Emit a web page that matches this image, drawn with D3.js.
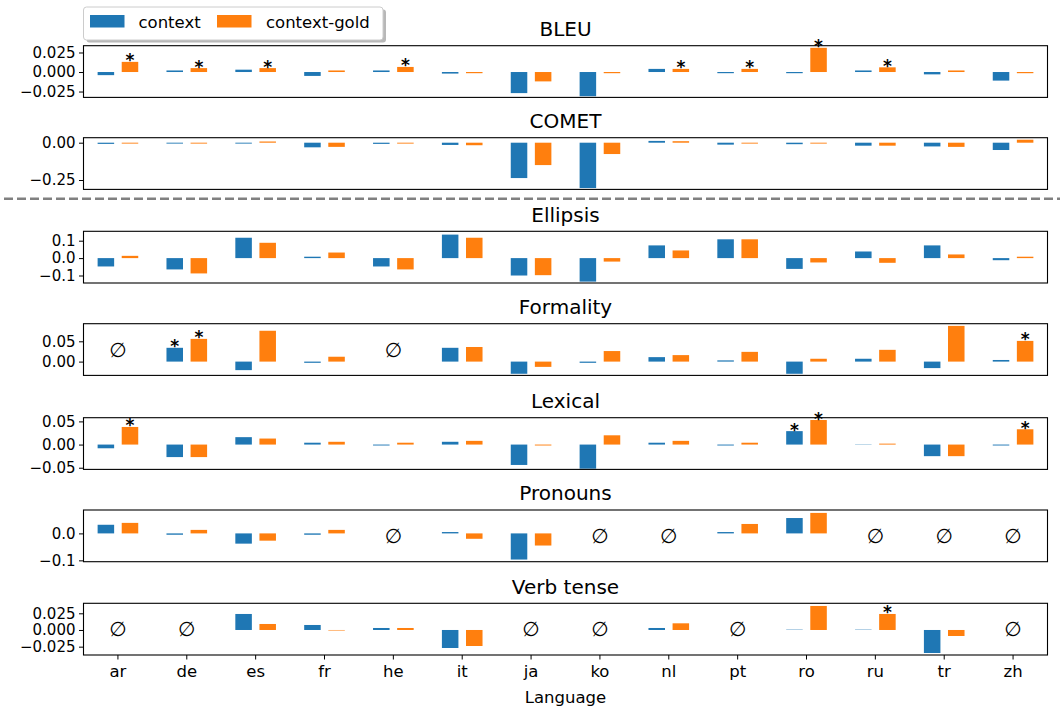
<!DOCTYPE html>
<html>
<head>
<meta charset="utf-8">
<script src="https://cdn.jsdelivr.net/npm/d3@7"></script>
<style>
  html, body { margin: 0; padding: 0; background: #fff; }
  svg { display: block; font-family: "DejaVu Sans", sans-serif; }
</style>
</head>
<body>
<svg id="chart" width="1060" height="707"></svg>
<script>
// Languages on the shared x axis
const languages = ["ar", "de", "es", "fr", "he", "it", "ja", "ko", "nl", "pt", "ro", "ru", "tr", "zh"];
const seriesNames = ["context", "context-gold"];

// Score differences per metric (null = no test data for that language)
const bleuContext = [-0.004, 0.002, 0.003, -0.005, 0.002, -0.002, -0.027, -0.031, 0.004, -0.0015, -0.0015, 0.002, -0.003, -0.011];
const bleuGold    = [0.013, 0.005, 0.005, 0.002, 0.0065, -0.0015, -0.012, -0.0015, 0.004, 0.004, 0.031, 0.006, 0.002, -0.0015];

const cometContext = [-0.008, -0.006, -0.006, -0.031, -0.008, -0.015, -0.237, -0.304, 0.012, -0.013, -0.01, -0.02, -0.025, -0.049];
const cometGold    = [-0.006, -0.006, 0.008, -0.028, -0.006, -0.017, -0.15, -0.076, 0.01, -0.006, -0.006, -0.02, -0.028, 0.02];

const ellipsisContext = [-0.048, -0.065, 0.117, 0.008, -0.048, 0.135, -0.1, -0.135, 0.073, 0.108, -0.062, 0.038, 0.073, -0.012];
const ellipsisGold    = [0.013, -0.088, 0.088, 0.032, -0.065, 0.117, -0.098, -0.02, 0.044, 0.108, -0.025, -0.027, 0.021, 0.008];

const formalityContext = [null, 0.034, -0.021, -0.003, null, 0.034, -0.03, -0.003, 0.011, 0.003, -0.03, 0.007, -0.016, 0.004];
const formalityGold    = [null, 0.056, 0.076, 0.012, null, 0.036, -0.013, 0.026, 0.016, 0.024, 0.007, 0.029, 0.088, 0.051];

const lexicalContext = [-0.008, -0.027, 0.016, 0.004, -0.002, 0.006, -0.044, -0.052, 0.004, -0.002, 0.029, 0.0006, -0.025, -0.002];
const lexicalGold    = [0.038, -0.027, 0.013, 0.006, 0.004, 0.008, -0.002, 0.02, 0.008, 0.004, 0.053, 0.002, -0.025, 0.033];

const pronounsContext = [0.032, -0.005, -0.038, -0.005, null, 0.005, -0.097, null, null, 0.005, 0.057, null, null, null];
const pronounsGold    = [0.039, 0.013, -0.027, 0.013, null, -0.02, -0.045, null, null, 0.035, 0.076, null, null, null];

const verbContext = [null, null, 0.024, 0.0075, 0.003, -0.027, null, null, 0.003, null, 0.0005, 0.0005, -0.0345, null];
const verbGold    = [null, null, 0.009, -0.0008, 0.003, -0.024, null, null, 0.01, null, 0.036, 0.024, -0.009, null];

// Languages whose difference is statistically significant (marked with *)
const bleuSigContext = [];
const bleuSigGold = ["ar", "de", "es", "he", "nl", "pt", "ro", "ru"];
const formalitySigContext = ["de"];
const formalitySigGold = ["de", "zh"];
const lexicalSigContext = ["ro"];
const lexicalSigGold = ["ar", "ro", "zh"];
const verbSigGold = ["ru"];

// Tick values per panel
const bleuTicks = [-0.025, 0, 0.025];
const cometTicks = [-0.25, 0];
const ellipsisTicks = [-0.1, 0, 0.1];
const formalityTicks = [0, 0.05];
const lexicalTicks = [-0.05, 0, 0.05];
const pronounsTicks = [-0.1, 0];
const verbTicks = [-0.025, 0, 0.025];

const panels = [
  { title: "BLEU", ctx: bleuContext, gold: bleuGold, sigCtx: bleuSigContext, sigGold: bleuSigGold,
    ticks: bleuTicks, fmt: ".3f", ylim: [-0.0325, 0.0337], top: 45.7 },
  { title: "COMET", ctx: cometContext, gold: cometGold, sigCtx: [], sigGold: [],
    ticks: cometTicks, fmt: ".2f", ylim: [-0.313, 0.0335], top: 137.7 },
  { title: "Ellipsis", ctx: ellipsisContext, gold: ellipsisGold, sigCtx: [], sigGold: [],
    ticks: ellipsisTicks, fmt: ".1f", ylim: [-0.143, 0.154], top: 231.3 },
  { title: "Formality", ctx: formalityContext, gold: formalityGold, sigCtx: formalitySigContext, sigGold: formalitySigGold,
    ticks: formalityTicks, fmt: ".2f", ylim: [-0.034, 0.0934], top: 323.7 },
  { title: "Lexical", ctx: lexicalContext, gold: lexicalGold, sigCtx: lexicalSigContext, sigGold: lexicalSigGold,
    ticks: lexicalTicks, fmt: ".2f", ylim: [-0.0536, 0.058], top: 417.7 },
  { title: "Pronouns", ctx: pronounsContext, gold: pronounsGold, sigCtx: [], sigGold: [],
    ticks: pronounsTicks, fmt: ".1f", ylim: [-0.105, 0.0868], top: 510 },
  { title: "Verb tense", ctx: verbContext, gold: verbGold, sigCtx: [], sigGold: verbSigGold,
    ticks: verbTicks, fmt: ".3f", ylim: [-0.0375, 0.040], top: 603.3 }
];

const colors = { ctx: "#1f77b4", gold: "#ff7f0e" };
const plotLeft = 83.5, plotRight = 1047.5, panelH = 51.7;

const svg = d3.select("#chart");

const x = d3.scaleBand().domain(languages).range([plotLeft, plotRight]).padding(0);
const bw = x.bandwidth();
const barW = bw * 0.24;
const barOff = bw * 0.175;
const cx = l => x(l) + bw / 2;

const minus = s => s.replace("-", "\u2212");

panels.forEach((p, pi) => {
  const y = d3.scaleLinear().domain(p.ylim).range([p.top + panelH, p.top]);
  const g = svg.append("g");

  // title
  g.append("text")
    .attr("x", (plotLeft + plotRight) / 2)
    .attr("y", p.top - 9.7)
    .attr("text-anchor", "middle")
    .attr("font-size", 20)
    .attr("fill", "#000")
    .text(p.title);

  // bars for both series
  [["ctx", -barOff], ["gold", barOff]].forEach(([key, off]) => {
    const vals = p[key];
    const sig = key === "ctx" ? p.sigCtx : p.sigGold;
    languages.forEach((lang, i) => {
      const v = vals[i];
      if (v === null) return;
      const y0 = y(0), y1 = y(v);
      g.append("rect")
        .attr("x", cx(lang) + off - barW / 2)
        .attr("y", Math.min(y0, y1))
        .attr("width", barW)
        .attr("height", Math.abs(y1 - y0))
        .attr("fill", colors[key]);
      if (sig.includes(lang)) {
        g.append("text")
          .attr("x", cx(lang) + off)
          .attr("y", Math.min(y0, y1) + 4.5)
          .attr("text-anchor", "middle")
          .attr("font-size", 17)
          .attr("font-weight", "bold")
          .attr("fill", "#000")
          .text("*");
      }
    });
  });

  // empty-set marker where a language has no data
  languages.forEach((lang, i) => {
    if (p.ctx[i] === null && p.gold[i] === null) {
      g.append("text")
        .attr("x", cx(lang))
        .attr("y", p.top + panelH / 2 + 7)
        .attr("text-anchor", "middle")
        .attr("font-size", 20)
        .attr("fill", "#000")
        .text("\u2205");
    }
  });

  // y axis
  const yAxis = d3.axisLeft(y).tickValues(p.ticks).tickSize(4.5).tickPadding(3.5)
    .tickFormat(d => minus(d3.format(p.fmt)(d)));
  const ya = g.append("g").attr("transform", `translate(${plotLeft},0)`).call(yAxis);
  ya.select(".domain").remove();
  ya.selectAll("text").attr("font-size", 15).attr("font-family", "DejaVu Sans").attr("fill", "#000");
  ya.selectAll("line").attr("stroke", "#000").attr("stroke-width", 1);

  // frame
  g.append("rect")
    .attr("x", plotLeft).attr("y", p.top)
    .attr("width", plotRight - plotLeft).attr("height", panelH)
    .attr("fill", "none").attr("stroke", "#000").attr("stroke-width", 1.1);

  // bottom panel carries the language axis
  if (pi === panels.length - 1) {
    const xAxis = d3.axisBottom(x).tickSize(4.5).tickPadding(6);
    const xa = g.append("g").attr("transform", `translate(0,${p.top + panelH})`).call(xAxis);
    xa.select(".domain").remove();
    xa.selectAll("text").attr("font-size", 16.5).attr("font-family", "DejaVu Sans").attr("fill", "#000");
    xa.selectAll("line").attr("stroke", "#000").attr("stroke-width", 1);
    g.append("text")
      .attr("x", (plotLeft + plotRight) / 2)
      .attr("y", 702.5)
      .attr("text-anchor", "middle")
      .attr("font-size", 16.5)
      .attr("fill", "#000")
      .text("Language");
  }
});

// dashed separator between the automatic metrics and the phenomena
svg.append("line")
  .attr("x1", 4).attr("x2", 1060)
  .attr("y1", 198.7).attr("y2", 198.7)
  .attr("stroke", "#808080").attr("stroke-width", 2.6)
  .attr("stroke-dasharray", "9,4");

// legend
const lg = svg.append("g");
lg.append("rect").attr("x", 86.5).attr("y", 9.5).attr("width", 299.5).attr("height", 33)
  .attr("rx", 3).attr("fill", "#888").attr("opacity", 0.6);
lg.append("rect").attr("x", 83.5).attr("y", 7).attr("width", 299.5).attr("height", 33)
  .attr("rx", 3).attr("fill", "#fff").attr("stroke", "#ccc").attr("stroke-width", 1);
const legendItems = [
  { name: seriesNames[0], color: colors.ctx, px: 90, tx: 138.5 },
  { name: seriesNames[1], color: colors.gold, px: 217, tx: 266 }
];
legendItems.forEach(it => {
  lg.append("rect").attr("x", it.px).attr("y", 15).attr("width", 34.5).attr("height", 12.5).attr("fill", it.color);
  lg.append("text").attr("x", it.tx).attr("y", 27.5).attr("font-size", 16.5).attr("fill", "#000").text(it.name);
});
</script>
</body>
</html>
